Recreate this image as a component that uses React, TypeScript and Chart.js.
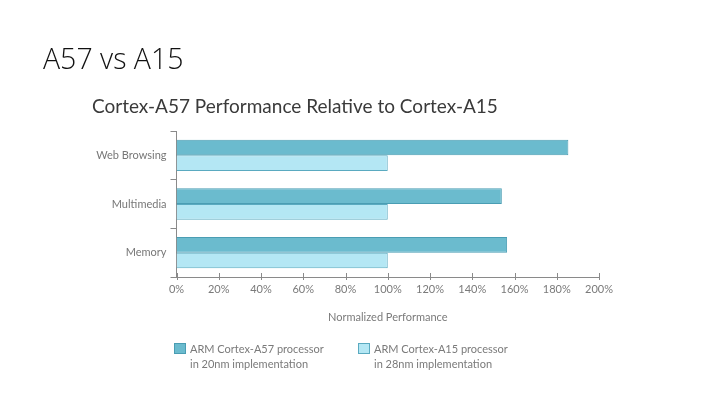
import React, { useEffect, useRef } from "react";
import { Chart, registerables } from "chart.js";

Chart.register(...registerables);

const categories = ["Web Browsing", "Multimedia", "Memory"];
const a57Values = [185.5, 154, 156.5];
const a15Values = [100, 100, 100];
const seriesNames = ["ARM Cortex-A57 processor|in 20nm implementation", "ARM Cortex-A15 processor|in 28nm implementation"];
const xTicks = [0, 20, 40, 60, 80, 100, 120, 140, 160, 180, 200];

const FONT = "Lato, 'Open Sans', sans-serif";

const tickMarks = {
  id: "tickMarks",
  afterDraw(chart: any) {
    const ctx = chart.ctx;
    const x = chart.scales.x;
    const area = chart.chartArea;
    ctx.save();
    ctx.strokeStyle = "#8a8a8a";
    ctx.lineWidth = 1;
    xTicks.forEach((v) => {
      const px = Math.round(x.getPixelForValue(v)) + 0.5;
      ctx.beginPath();
      ctx.moveTo(px, area.bottom - 4);
      ctx.lineTo(px, area.bottom + 3);
      ctx.stroke();
    });
    ctx.restore();
  },
};

const legendPlugin = {
  id: "twoLineLegend",
  afterDraw(chart: any) {
    const ctx = chart.ctx;
    const positions = [174, 358];
    ctx.save();
    chart.data.datasets.forEach((ds: any, i: number) => {
      const bx = positions[i];
      const by = 343;
      ctx.fillStyle = ds.backgroundColor;
      ctx.strokeStyle = ds.borderColor;
      ctx.lineWidth = 1;
      ctx.fillRect(bx, by, 12, 11);
      ctx.strokeRect(bx + 0.5, by + 0.5, 11, 10);
      ctx.fillStyle = "#7a7a7a";
      ctx.font = `11px ${FONT}`;
      ctx.textBaseline = "middle";
      ctx.textAlign = "left";
      const lines = seriesNames[i].split("|");
      lines.forEach((ln, j) => {
        ctx.fillText(ln, bx + 16, by + 6 + j * 15);
      });
    });
    ctx.restore();
  },
};

export default function App() {
  const ref = useRef<HTMLCanvasElement>(null);
  useEffect(() => {
    document.body.style.margin = "0";
    const chart = new Chart(ref.current!, {
      type: "bar",
      data: {
        labels: categories,
        datasets: [
          {
            label: "ARM Cortex-A57 processor in 20nm implementation",
            data: a57Values,
            backgroundColor: "#6bbbce",
            borderColor: "#4a9db3",
            borderWidth: 1,
            borderSkipped: "start",
            categoryPercentage: 0.645,
            barPercentage: 1,
          },
          {
            label: "ARM Cortex-A15 processor in 28nm implementation",
            data: a15Values,
            backgroundColor: "#b4e7f4",
            borderColor: "#5aaac0",
            borderWidth: 1,
            borderSkipped: "start",
            categoryPercentage: 0.645,
            barPercentage: 1,
          },
        ],
      },
      options: {
        indexAxis: "y",
        animation: false,
        responsive: false,
        layout: { padding: { top: 131, right: 121, left: 0, bottom: 81 } },
        plugins: {
          legend: { display: false },
          tooltip: { enabled: false },
          title: { display: false },
        },
        scales: {
          x: {
            min: 0,
            max: 200,
            afterFit: (s: any) => {
              s.height = 47;
            },
            afterBuildTicks: (s: any) => {
              s.ticks = xTicks.map((v) => ({ value: v }));
            },
            ticks: {
              callback: (v: any) => `${v}%`,
              color: "#7a7a7a",
              font: { family: FONT, size: 11 },
              padding: 6,
              maxRotation: 0,
              autoSkip: false,
            },
            grid: { display: false, drawTicks: false },
            border: { display: true, color: "#8a8a8a", width: 1 },
            title: {
              display: true,
              text: "Normalized Performance",
              color: "#7a7a7a",
              font: { family: FONT, size: 11 },
              padding: { top: 12, bottom: 0 },
            },
          },
          y: {
            afterFit: (s: any) => {
              s.width = 176.5;
            },
            ticks: {
              color: "#777777",
              font: { family: FONT, size: 11 },
              padding: 4,
            },
            grid: {
              display: true,
              drawOnChartArea: false,
              drawTicks: true,
              tickLength: 6,
              color: "#8a8a8a",
              offset: true,
            },
            border: { display: true, color: "#8a8a8a", width: 1 },
          },
        },
      } as any,
      plugins: [tickMarks, legendPlugin],
    });
    return () => chart.destroy();
  }, []);

  return (
    <div style={{ position: "relative", width: 720, height: 405, background: "#fff" }}>
      <canvas ref={ref} width={720} height={405} style={{ position: "absolute", left: 0, top: 0 }} />
      <div
        style={{
          position: "absolute",
          left: 43,
          top: 40,
          fontFamily: "'Open Sans', sans-serif",
          fontWeight: 300,
          fontSize: 28.5,
          color: "#111",
          lineHeight: "36px",
          whiteSpace: "nowrap",
        }}
      >
        A57 vs A15
      </div>
      <div
        style={{
          position: "absolute",
          left: 92,
          top: 94,
          fontFamily: FONT,
          fontSize: 19,
          color: "#3a3a3a",
          lineHeight: "24px",
          whiteSpace: "nowrap",
        }}
      >
        Cortex-A57 Performance Relative to Cortex-A15
      </div>
    </div>
  );
}
